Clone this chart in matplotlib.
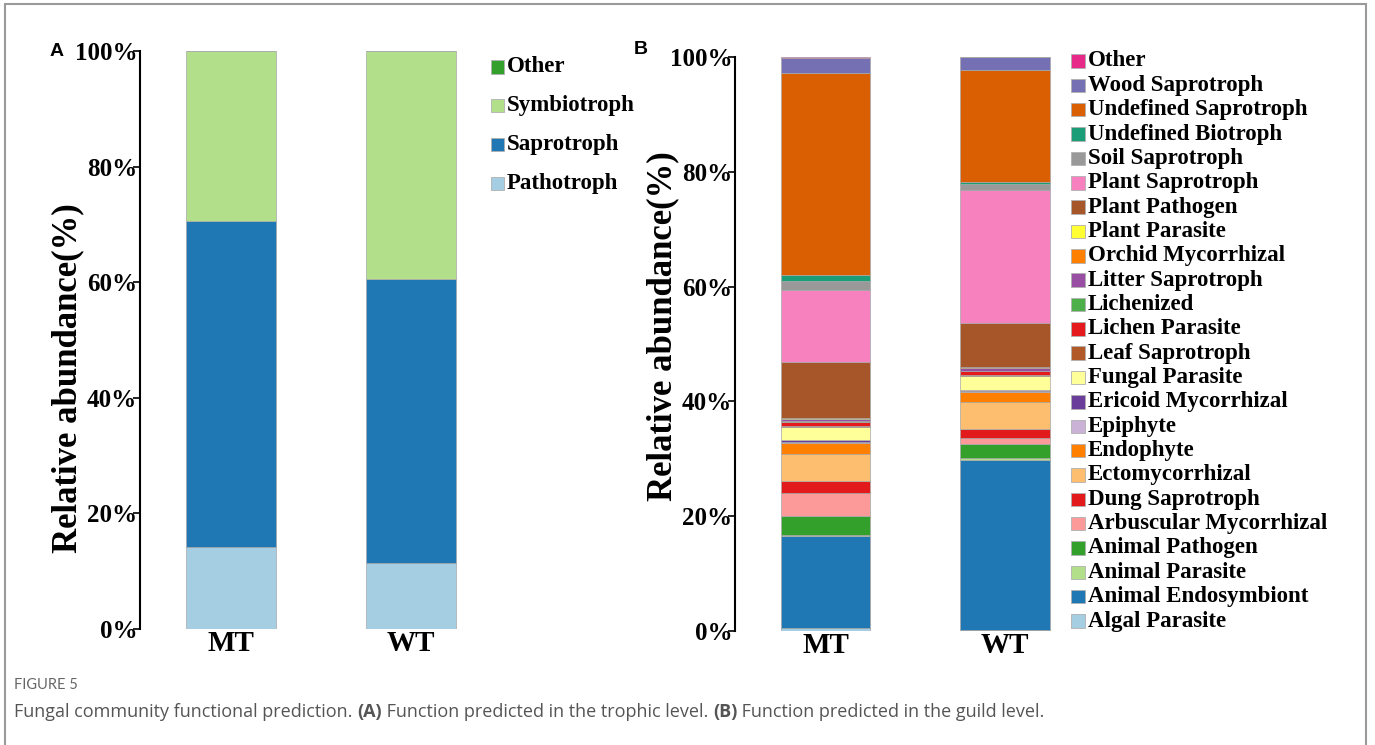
import matplotlib
matplotlib.use('Agg')
import matplotlib.pyplot as plt
from matplotlib.patches import Rectangle
import numpy as np

W, H = 1375, 745
SERIF = 'Liberation Serif'

samples = ['MT', 'WT']

# panel A: trophic level (bottom -> top)
trophic = ['Pathotroph', 'Saprotroph', 'Symbiotroph', 'Other']
trophic_colors = ['#a6cee3', '#1f78b4', '#b2df8a', '#33a02c']
trophic_mt = [14.2, 56.4, 29.4, 0.0]
trophic_wt = [11.4, 49.2, 39.4, 0.0]

# panel B: guild level (bottom -> top)
guilds = ['Algal Parasite', 'Animal Endosymbiont', 'Animal Parasite', 'Animal Pathogen',
          'Arbuscular Mycorrhizal', 'Dung Saprotroph', 'Ectomycorrhizal', 'Endophyte',
          'Epiphyte', 'Ericoid Mycorrhizal', 'Fungal Parasite', 'Leaf Saprotroph',
          'Lichen Parasite', 'Lichenized', 'Litter Saprotroph', 'Orchid Mycorrhizal',
          'Plant Parasite', 'Plant Pathogen', 'Plant Saprotroph', 'Soil Saprotroph',
          'Undefined Biotroph', 'Undefined Saprotroph', 'Wood Saprotroph', 'Other']
guild_colors = ['#a6cee3', '#1f78b4', '#b2df8a', '#33a02c',
                '#fb9a99', '#e31a1c', '#fdbf6f', '#ff7f00',
                '#cab2d6', '#6a3d9a', '#ffff99', '#b15928',
                '#e41a1c', '#4daf4a', '#984ea3', '#ff7f00',
                '#ffff33', '#a65628', '#f781bf', '#999999',
                '#1b9e77', '#d95f02', '#7570b3', '#e7298a']
guild_mt = [0.5, 16.1, 0.2, 3.2, 4.1, 2.1, 4.6, 2.0, 0.2, 0.2, 2.3, 0.2,
            0.75, 0.1, 0.3, 0.1, 0.1, 9.8, 12.5, 1.7, 0.9, 35.3, 2.6, 0.2]
guild_wt = [0.2, 29.6, 0.3, 2.4, 1.2, 1.45, 4.8, 1.7, 0.1, 0.2, 2.4, 0.3,
            0.6, 0.1, 0.4, 0.2, 0.1, 7.6, 23.1, 1.2, 0.2, 19.5, 2.3, 0.1]


def fx(x):
    return x / W


def fy(y):
    return 1 - y / H


def stacked(ax, mt, wt, colors):
    vals = np.array([mt, wt])
    bottom = np.zeros(2)
    for i, c in enumerate(colors):
        ax.bar([0, 1], vals[:, i], 0.5, bottom=bottom, color=c,
               edgecolor='#a8a8a8', linewidth=0.5)
        bottom += vals[:, i]


def style_axis(ax):
    ax.set_ylim(0, 100)
    ax.set_xlim(-0.505, 1.5)
    for s in ['top', 'right', 'bottom']:
        ax.spines[s].set_visible(False)
    ax.spines['left'].set_linewidth(1.5)
    ax.set_yticks(np.arange(0, 101, 20), [f'{v}%' for v in range(0, 101, 20)],
                  fontfamily=SERIF, fontweight='bold', fontsize=18)
    ax.set_xticks([0, 1], samples, fontfamily=SERIF, fontweight='bold', fontsize=21)
    ax.tick_params(axis='y', direction='out', length=5, width=1.2, pad=-3)
    ax.tick_params(axis='x', length=0, pad=1)


def legend(labels, colors, x0, y0, step, size, fs):
    for i, (lab, c) in enumerate(zip(labels, colors)):
        y = y0 + i * step
        fig.add_artist(Rectangle((fx(x0), fy(y + size / 2)), size / W, size / H,
                                 facecolor=c, edgecolor='#b0b0b0', linewidth=0.6,
                                 transform=fig.transFigure))
        fig.text(fx(x0 + size + 3), fy(y), lab, fontfamily=SERIF, fontweight='bold',
                 fontsize=fs, ha='left', va='center')


fig = plt.figure(figsize=(W / 100, H / 100), dpi=100)

# frame
fig.add_artist(Rectangle((fx(5), -0.05), (1366 - 5) / W, fy(4) + 0.05, fill=False,
                         edgecolor='#9a9a9a', linewidth=1.5, transform=fig.transFigure))

# panel A
axA = fig.add_axes([fx(140), fy(629), 361 / W, 578 / H])
stacked(axA, trophic_mt, trophic_wt, trophic_colors)
style_axis(axA)
axA.text(-0.2, 0.434, 'Relative abundance(%)', transform=axA.transAxes, rotation=90,
         ha='center', va='center', fontfamily=SERIF, fontweight='bold', fontsize=25)
legend(trophic[::-1], trophic_colors[::-1], 491, 67, 38.7, 13, 16.5)
fig.text(fx(57), fy(52), 'A', fontfamily='Liberation Sans', fontweight='bold',
         fontsize=14, ha='center', va='center')

# panel B
axB = fig.add_axes([fx(735), fy(631), 359.7 / W, 574 / H])
stacked(axB, guild_mt, guild_wt, guild_colors)
style_axis(axB)
axB.text(-0.2, 0.531, 'Relative abundance(%)', transform=axB.transAxes, rotation=90,
         ha='center', va='center', fontfamily=SERIF, fontweight='bold', fontsize=25)
legend(guilds[::-1], guild_colors[::-1], 1071, 61, 24.35, 13.5, 16.5)
fig.text(fx(641), fy(50), 'B', fontfamily='Liberation Sans', fontweight='bold',
         fontsize=14, ha='center', va='center')

# caption
fig.text(fx(14), fy(685), 'FIGURE 5', fontfamily='Lato', fontsize=10.5,
         color='#666666', ha='left', va='center')
pieces = [('Fungal community functional prediction. ', 'normal'), ('(A)', 'bold'),
          (' Function predicted in the trophic level. ', 'normal'), ('(B)', 'bold'),
          (' Function predicted in the guild level.', 'normal')]
renderer = fig.canvas.get_renderer()
x = 14
for txt, wt in pieces:
    t = fig.text(fx(x), fy(712), txt, fontfamily='Open Sans', fontsize=13,
                 fontweight=wt, color='#555555', ha='left', va='center')
    x += t.get_window_extent(renderer).width

fig.savefig('out.png', dpi=100)
